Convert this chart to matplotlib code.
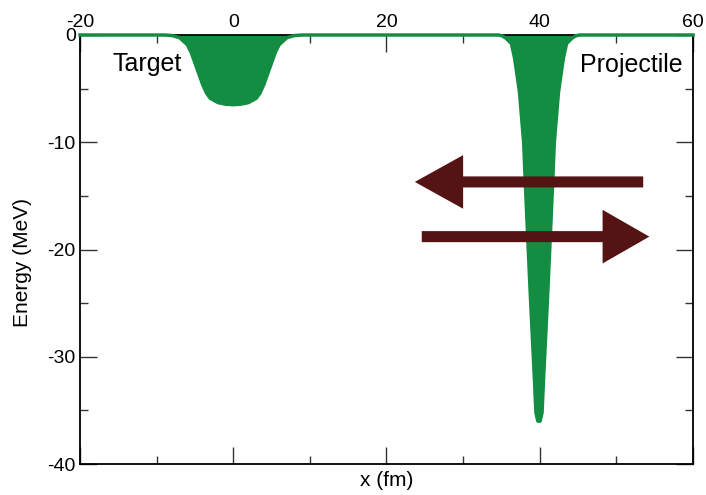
import matplotlib.pyplot as plt
import numpy as np

# potencial do alvo (Woods-Saxon raso em x=0)
alvo_x = [-20, -9, -8, -7, -6, -5.5, -5, -4.5, -4, -3.5, -3, -2, -1, 0,
          1, 2, 3, 3.5, 4, 4.5, 5, 5.5, 6, 7, 8, 9]
alvo_v = [0, 0, -0.05, -0.25, -0.9, -1.6, -2.6, -3.6, -4.6, -5.4, -5.9, -6.3, -6.45, -6.5,
          -6.45, -6.3, -5.9, -5.4, -4.6, -3.6, -2.6, -1.6, -0.9, -0.25, -0.05, 0]

# potencial do projetil (poco estreito e profundo em x=40)
proj_x = [33, 34.6, 35.1, 35.6, 36.3, 36.7, 36.95, 37.35, 37.9, 38.1, 38.5, 38.8, 39.1, 39.3, 39.5, 39.75,
          40.05, 40.3, 40.5, 40.7, 41.0, 41.3, 41.7, 41.9, 42.45, 42.85, 43.1, 43.5, 44.2, 44.7, 45.2, 47, 60]
proj_v = [0, 0, -0.08, -0.3, -0.8, -2.1, -3.3, -5.3, -10, -13.5, -20, -24.7, -29.1, -32, -35.2, -36,
          -36, -35.2, -32, -29.1, -24.7, -20, -13.5, -10, -5.3, -3.3, -2.1, -0.8, -0.3, -0.08, 0, 0, 0]

x = np.array(alvo_x + proj_x)
v = np.array(alvo_v + proj_v)

verde = '#138d42'
marrom = '#551414'

plt.rcParams['font.family'] = ['Liberation Sans', 'DejaVu Sans']
plt.rcParams['axes.unicode_minus'] = False

fig = plt.figure(figsize=(7.06, 4.95), dpi=100)
ax = fig.add_axes([0.1133, 0.0626, 0.8683, 0.8667])

ax.fill_between(x, v, 0, color=verde, lw=0, zorder=2)
ax.plot(x, v, color=verde, lw=2.5, zorder=4, clip_on=False)

# setas
ax.arrow(53.5, -13.7, -29.8, 0, width=1.03, head_width=5.0, head_length=6.3,
         length_includes_head=True, color=marrom, lw=0, zorder=5)
ax.arrow(24.6, -18.8, 29.7, 0, width=1.03, head_width=5.0, head_length=6.1,
         length_includes_head=True, color=marrom, lw=0, zorder=5)

ax.text(-15.8, -2.7, 'Target', fontsize=18, va='center', ha='left')
ax.text(58.6, -2.8, 'Projectile', fontsize=18, va='center', ha='right')

ax.set_xlim(-20, 60)
ax.set_ylim(-40, 0)
ax.set_xticks([-20, 0, 20, 40, 60])
ax.set_xticks([-10, 10, 30, 50], minor=True)
ax.set_yticks([-40, -30, -20, -10, 0])
ax.set_yticks([-35, -25, -15, -5], minor=True)

ax.tick_params(which='both', direction='in', top=True, right=True,
               labeltop=True, labelbottom=False, labelsize=14, color='#333333', width=1)
ax.tick_params(which='major', length=12, pad=3)
ax.tick_params(which='minor', length=6)

for s in ax.spines.values():
    s.set_linewidth(1.3)

ax.xaxis.set_label_position('bottom')
ax.set_xlabel('x (fm)', fontsize=15, labelpad=5)
ax.set_ylabel('Energy (MeV)', fontsize=15)
ax.yaxis.set_label_coords(-0.078, 0.47)

fig.savefig('out.png', dpi=100)
